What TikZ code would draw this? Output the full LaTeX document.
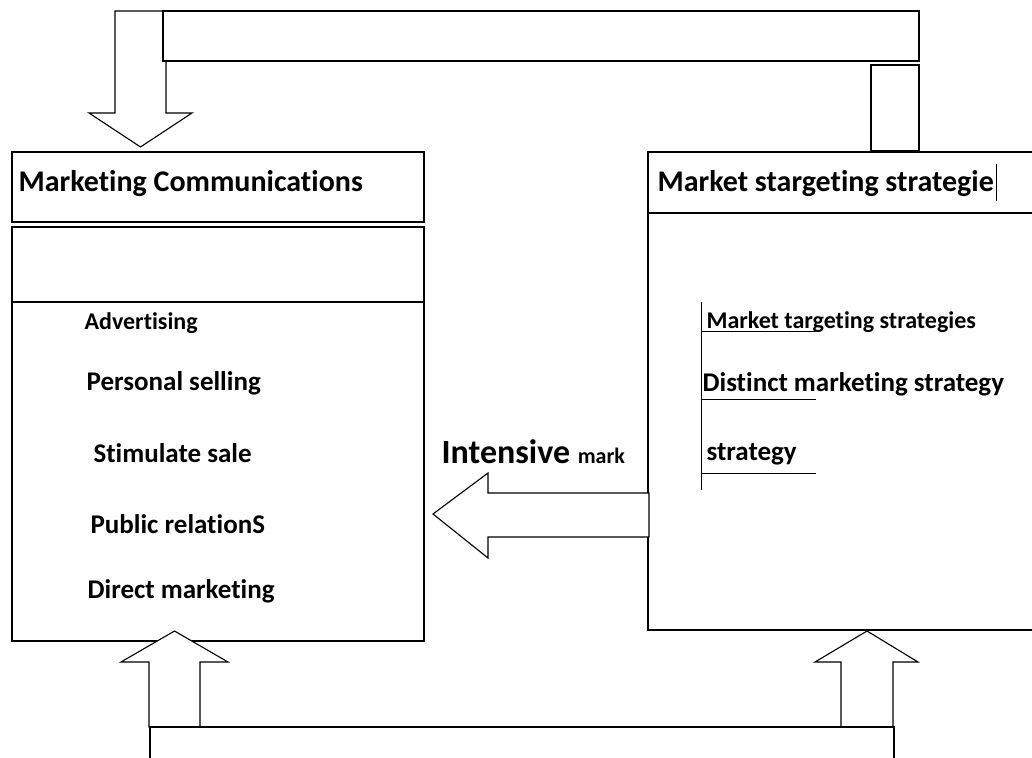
\documentclass[tikz,border=0pt]{standalone}
\usepackage{fontspec}
\setmainfont{Carlito}[RawFeature={-liga;-clig;-calt;-dlig}]
\begin{document}
\begin{tikzpicture}[x=1pt,y=-1pt,
  line width=1.2pt,
  box/.style={draw=black,fill=white},
  blockarrow/.style={draw=black,fill=white,line width=1.1pt,line join=miter},
  lbl/.style={anchor=west,inner sep=0pt,font=\bfseries\fontsize{#1}{#1}\selectfont},
  lbl/.default=27]
\useasboundingbox (0,0) rectangle (1032,757);

% --- left column: communications box
\draw[box] (12,152) rectangle (424,222);
\draw[box] (12,227) rectangle (424,641);
\draw (12,302) -- (424,302);
\node[lbl=30] (mc) at (18,184) {Marketing Communications};
\node[lbl=24] (adv) at (84,323) {Advertising};
\node[lbl] (ps) at (86,383) {Personal selling};
\node[lbl] (ss) at (93,453) {Stimulate sale};
\node[lbl] (pr) at (90,524) {Public relationS};
\node[lbl] (dm) at (87,591) {Direct marketing};

% --- right column: targeting box
\draw[box] (648,152) rectangle (1040,213);
\draw[box] (648,213) rectangle (1040,630);
\node[lbl=30] (mts) at (657,184) {Market stargeting strategie};
\draw[line width=1pt] (996,164) -- (996,201);
\draw[line width=1pt] (701,302) -- (701,490);
\foreach \yy in {331,399,473} \draw[line width=1pt] (701,\yy) -- (816,\yy);
\node[lbl=24] (t1) at (706,322) {Market targeting strategies};
\node[lbl] (t2) at (702,384) {Distinct marketing strategy};
\node[lbl] (t3) at (706,454) {strategy};

% --- top feedback: arrow into the communications box
\draw[blockarrow] (115,11) -- (166,11) -- (166,113) -- (192,113) -- (140.5,147)
  -- (89,113) -- (115,113) -- cycle;
\draw[box] (163,11) rectangle (919,61);
\draw[box] (871,65) rectangle (919,151);

% --- middle arrow from targeting to communications
\draw[blockarrow] (649,493) -- (649,537) -- (488,537) -- (488,558) -- (433,514)
  -- (488,473) -- (488,493) -- cycle;
\node[anchor=base west,inner sep=0pt] (im) at (441,463)
  {\bfseries\fontsize{34}{34}\selectfont Intensive \fontsize{22}{22}\selectfont mark};

% --- bottom: two up arrows from the base bar
\draw[blockarrow] (149,727) -- (149,662) -- (121,662) -- (174.5,631) -- (228,662)
  -- (200,662) -- (200,727) -- cycle;
\draw[blockarrow] (841,727) -- (841,662) -- (815,662) -- (867,631) -- (918,662)
  -- (893,662) -- (893,727) -- cycle;
\draw[box] (150,727) rectangle (894,770);
\end{tikzpicture}
\end{document}
